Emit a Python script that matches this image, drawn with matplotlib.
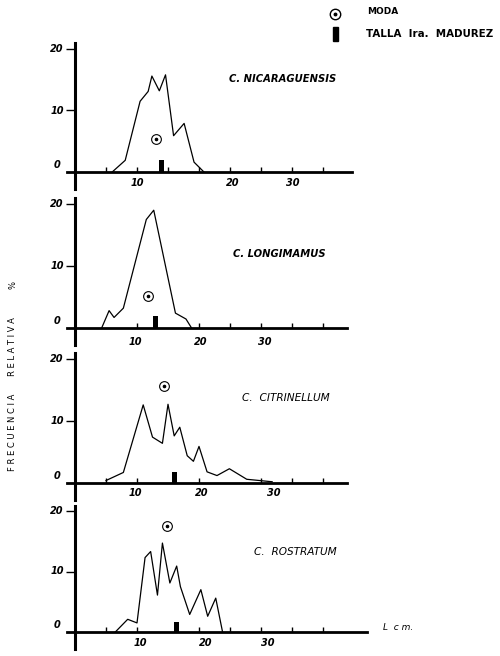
import numpy as np
import matplotlib.pyplot as plt
from matplotlib.patches import Rectangle

# --- data (length in cm, relative frequency in %) ---
species = ["C. NICARAGUENSIS", "C. LONGIMAMUS", "C.  CITRINELLUM", "C.  ROSTRATUM"]

nic_x = [6.0, 8.1, 10.5, 11.8, 12.4, 13.6, 14.6, 15.9, 17.6, 19.2, 20.8]
nic_y = [0.0, 1.9, 11.5, 13.1, 15.6, 13.2, 15.8, 5.9, 7.9, 1.6, 0.0]

lon_x = [4.3, 5.5, 6.3, 7.8, 11.5, 12.7, 16.2, 17.9, 18.8]
lon_y = [0.0, 2.8, 1.7, 3.2, 17.5, 19.0, 2.4, 1.45, 0.0]

cit_x = [5.0, 7.8, 11.0, 12.5, 14.1, 15.0, 16.0, 16.9, 18.1, 19.1, 20.0,
         21.3, 22.9, 24.9, 27.7, 31.8]
cit_y = [0.4, 1.7, 12.6, 7.4, 6.4, 12.7, 7.6, 9.0, 4.4, 3.5, 5.9,
         1.8, 1.2, 2.3, 0.6, 0.2]

ros_x = [6.5, 8.5, 10.0, 11.3, 12.2, 13.3, 14.1, 15.3, 16.4, 17.0, 18.5,
         20.3, 21.4, 22.7, 23.8]
ros_y = [0.0, 2.1, 1.5, 12.3, 13.3, 6.1, 14.7, 8.1, 10.9, 7.5, 2.9,
         7.0, 2.6, 5.6, 0.0]

# moda (x, y) and talla de primera madurez (x, height)
moda = [(13.1, 5.4), (11.7, 5.2), (14.35, 15.7), (14.9, 17.6)]
talla = [(13.9, 1.95), (12.95, 1.9), (16.1, 1.8), (16.3, 1.6)]

curves = [(nic_x, nic_y), (lon_x, lon_y), (cit_x, cit_y), (ros_x, ros_y)]

# --- layout (pixels of the 500x656 page) ---
W, H = 500, 656
X0, SX = 75, 6.2                      # pixel of length 0, pixels per cm
zero_py = [172, 328, 483, 632]        # pixel row of the zero line
scale_py = [6.15, 6.2, 6.2, 6.05]     # pixels per % unit
axis_end = [44.6, 43.8, 43.8, 47.1]
ticks = [[5, 10, 15, 20, 25, 30, 35, 40],
         [10, 20, 25, 30, 35, 40],
         [5, 10, 20, 30, 35, 40],
         [5, 10, 20, 25, 30, 35, 40]]
# hand lettered labels do not sit exactly on their ticks
label_pos = [[10, 25.5, 35.2], [9.8, 20.2, 30.6], [9.7, 20.5, 32.1], [10.5, 21.0, 31.1]]
label_gap = [11, 14, 10, 11]
title_px = [(283, 79), (279, 254), (286, 398), (295, 552)]
title_size = [7.2, 7.2, 7.6, 7.6]

XLIM = (-2.5, 48)
YLIM = (-3.5, 22)

num_font = dict(fontsize=7, fontweight="bold", fontstyle="italic")

fig = plt.figure(figsize=(5, 6.56), dpi=100)

for i, (xs, ys) in enumerate(curves):
    y0, s = zero_py[i], scale_py[i]
    left = X0 + XLIM[0] * SX
    right = X0 + XLIM[1] * SX
    bottom = y0 - YLIM[0] * s
    top = y0 - YLIM[1] * s
    ax = fig.add_axes([left / W, 1 - bottom / H, (right - left) / W, (bottom - top) / H])
    ax.set_xlim(*XLIM)
    ax.set_ylim(*YLIM)
    ax.patch.set_visible(False)

    ax.plot(xs, ys, color="black", lw=0.9)

    mx, my = moda[i]
    ax.plot(mx, my, marker="o", ms=7, mfc="white", mec="black", mew=0.8)
    ax.plot(mx, my, marker="o", ms=1.6, color="black")

    tx, th = talla[i]
    ax.bar(tx, th, width=0.8, color="black")

    for side in ("top", "right"):
        ax.spines[side].set_visible(False)
    ax.spines["left"].set_position(("data", 0))
    ax.spines["left"].set_bounds(-2.8, 20.9)
    ax.spines["bottom"].set_position(("data", 0))
    ax.spines["bottom"].set_bounds(-1.3, axis_end[i])
    ax.spines["left"].set_linewidth(2.2)
    ax.spines["bottom"].set_linewidth(2.0)

    ax.set_yticks([10, 20])
    ax.set_yticklabels([])
    ax.tick_params(axis="y", direction="out", length=6.5, width=1)
    ax.set_xticks(ticks[i])
    ax.set_xticklabels([])
    ax.tick_params(axis="x", direction="in", length=3.5, width=1)

    for v in (10, 20):
        ax.text(-1.8, v, str(v), ha="right", va="center", **num_font)
    ax.text(-2.4, 1.2, "0", ha="right", va="center", **num_font)

    for pos, lab in zip(label_pos[i], ["10", "20", "30"]):
        ax.text(pos, -label_gap[i] / s, lab, ha="center", va="center", **num_font)

    weight = "bold" if i < 2 else "normal"
    fig.text(title_px[i][0] / W, 1 - title_px[i][1] / H, species[i],
             ha="center", va="center", fontsize=title_size[i], fontweight=weight,
             fontstyle="italic")

# --- overlay for legend, y label and unit ---
ov = fig.add_axes([0, 0, 1, 1])
ov.set_xlim(0, W)
ov.set_ylim(H, 0)
ov.axis("off")

ov.plot(335, 14, marker="o", ms=7.5, mfc="white", mec="black", mew=1)
ov.plot(335, 14, marker="o", ms=1.8, color="black")
ov.text(367, 12, "MODA", ha="left", va="center", fontsize=6.5, fontweight="bold")
ov.add_patch(Rectangle((332.5, 27), 5, 13.5, color="black"))
ov.text(366, 34, "TALLA  Ira.  MADUREZ", ha="left", va="center",
        fontsize=7.4, fontweight="bold")

lab_font = dict(fontsize=6, rotation=90, ha="center", va="center")
ov.text(13, 432, "F R E C U E N C I A", **lab_font)
ov.text(13, 347, "R E L A T I V A", **lab_font)
ov.text(13, 285, "%", **lab_font)

ov.text(383, 628, "L  c m.", ha="left", va="center", fontsize=6.5, fontstyle="italic")

fig.savefig("out.png", dpi=100)
